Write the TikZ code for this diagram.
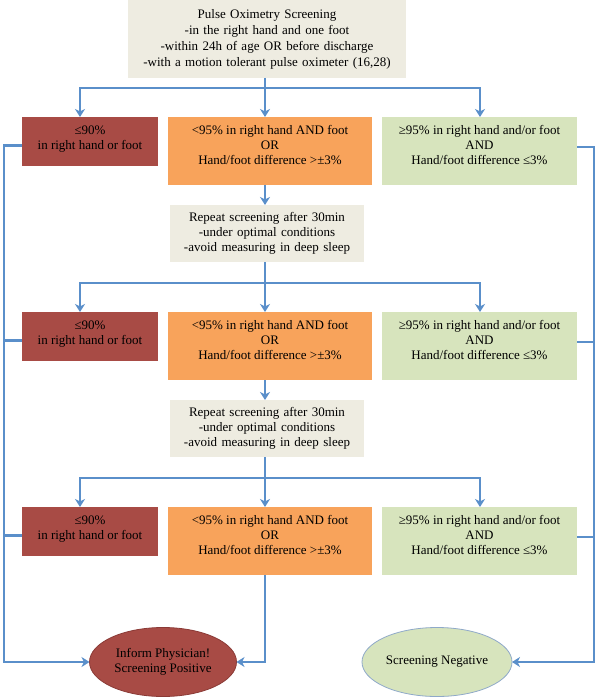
\documentclass[tikz,border=0pt]{standalone}
\usepackage{fontspec}
\setmainfont{Liberation Serif}
\usetikzlibrary{arrows.meta,shapes.geometric}
\definecolor{cred}{HTML}{A84B45}
\definecolor{credline}{HTML}{8A3A36}
\definecolor{corange}{HTML}{F8A35B}
\definecolor{cgreen}{HTML}{D7E4BD}
\definecolor{cgreenline}{HTML}{8FA9C9}
\definecolor{cgray}{HTML}{EEECE1}
\definecolor{cblue}{HTML}{5A8FCA}
\newcommand{\tbox}[3]{\parbox[c][#2][t]{#1}{\centering\vspace*{7pt}\strut #3}}
\begin{document}
\begin{tikzpicture}[x=1pt,y=-1pt,
  conn/.style={draw=cblue, line width=2.9pt, -{Stealth[length=8pt,width=10pt,inset=2.5pt]}},
  wire/.style={draw=cblue, line width=2.9pt},
  box/.style={inner sep=0pt, outer sep=0pt, anchor=north west, font=\fontsize{13}{15}\selectfont},
  gbox/.style={fill=cgray, inner sep=0pt, outer sep=0pt, anchor=north, align=center},
  endnode/.style={ellipse, inner sep=0pt, outer sep=0pt, line width=0.8pt, align=center, font=\fontsize{13}{15}\selectfont}]
\useasboundingbox (0,0) rectangle (600,700);

\coordinate (cx) at (265,0);
\coordinate (lx) at (80,0);
\coordinate (rx) at (480,0);
\coordinate (L) at (4,662);
\coordinate (R) at (594,662);

% top box
\node[gbox, text width=278pt, minimum height=78pt, font=\fontsize{13}{16}\selectfont] (top) at (267,0)
  {Pulse Oximetry Screening\\-in the right hand and one foot\\-within 24h of age OR before discharge\\-with a motion tolerant pulse oximeter (16,28)};

% rows
\foreach \i/\y in {1/117,2/312,3/507}{
  \node[box, fill=cred] (r\i) at (22,\y) {\tbox{136pt}{49pt}{≤90\%\\in right hand or foot}};
  \node[box, fill=corange] (o\i) at (168,\y) {\tbox{204pt}{68pt}{<95\% in right hand AND foot\\OR\\Hand/foot difference >±3\%}};
  \node[box, fill=cgreen] (g\i) at (382,\y) {\tbox{195pt}{68pt}{≥95\% in right hand and/or foot\\AND\\Hand/foot difference ≤3\%}};
}

% repeat boxes
\node[gbox, text width=194pt, minimum height=57pt, font=\fontsize{13}{15}\selectfont] (rep1) at (267,205)
  {Repeat screening after 30min\\-under optimal conditions\\-avoid measuring in deep sleep};
\node[gbox, text width=194pt, minimum height=57pt, font=\fontsize{13}{15}\selectfont] (rep2) at (267,400)
  {Repeat screening after 30min\\-under optimal conditions\\-avoid measuring in deep sleep};

% end nodes
\node[endnode, fill=cred, draw=credline, minimum width=147pt, minimum height=69pt] (pos) at (163,662)
  {Inform Physician!\\Screening Positive};
\node[endnode, fill=cgreen, draw=cgreenline, minimum width=150pt, minimum height=69pt] (neg) at (437,662)
  {Screening Negative};

% branch points
\coordinate (b1) at (265,88);
\coordinate (b2) at (265,283);
\coordinate (b3) at (265,478);

% row 1
\draw[conn] (top.south -| cx) -- (o1.north -| cx);
\draw[conn] (b1) -| (r1.north -| lx);
\draw[conn] (b1) -| (g1.north -| rx);
\draw[conn] (o1.south -| cx) -- (rep1.north -| cx);
% row 2
\draw[conn] (rep1.south -| cx) -- (o2.north -| cx);
\draw[conn] (b2) -| (r2.north -| lx);
\draw[conn] (b2) -| (g2.north -| rx);
\draw[conn] (o2.south -| cx) -- (rep2.north -| cx);
% row 3
\draw[conn] (rep2.south -| cx) -- (o3.north -| cx);
\draw[conn] (b3) -| (r3.north -| lx);
\draw[conn] (b3) -| (g3.north -| rx);

% left collector
\draw[conn] ([yshift=-4pt]r1.west) -| (L) -- (pos.west);
\draw[wire] ([yshift=-4pt]r2.west) -- ++(-18,0);
\draw[wire] ([yshift=-4pt]r3.west) -- ++(-18,0);
% right collector
\draw[conn] ([yshift=4pt]g1.east) -| (R) -- (neg.east);
\draw[wire] ([yshift=4pt]g2.east) -- ++(17,0);
\draw[wire] ([yshift=4pt]g3.east) -- ++(17,0);
% center to positive
\draw[conn] (o3.south -| cx) |- (pos.east);
\end{tikzpicture}
\end{document}
